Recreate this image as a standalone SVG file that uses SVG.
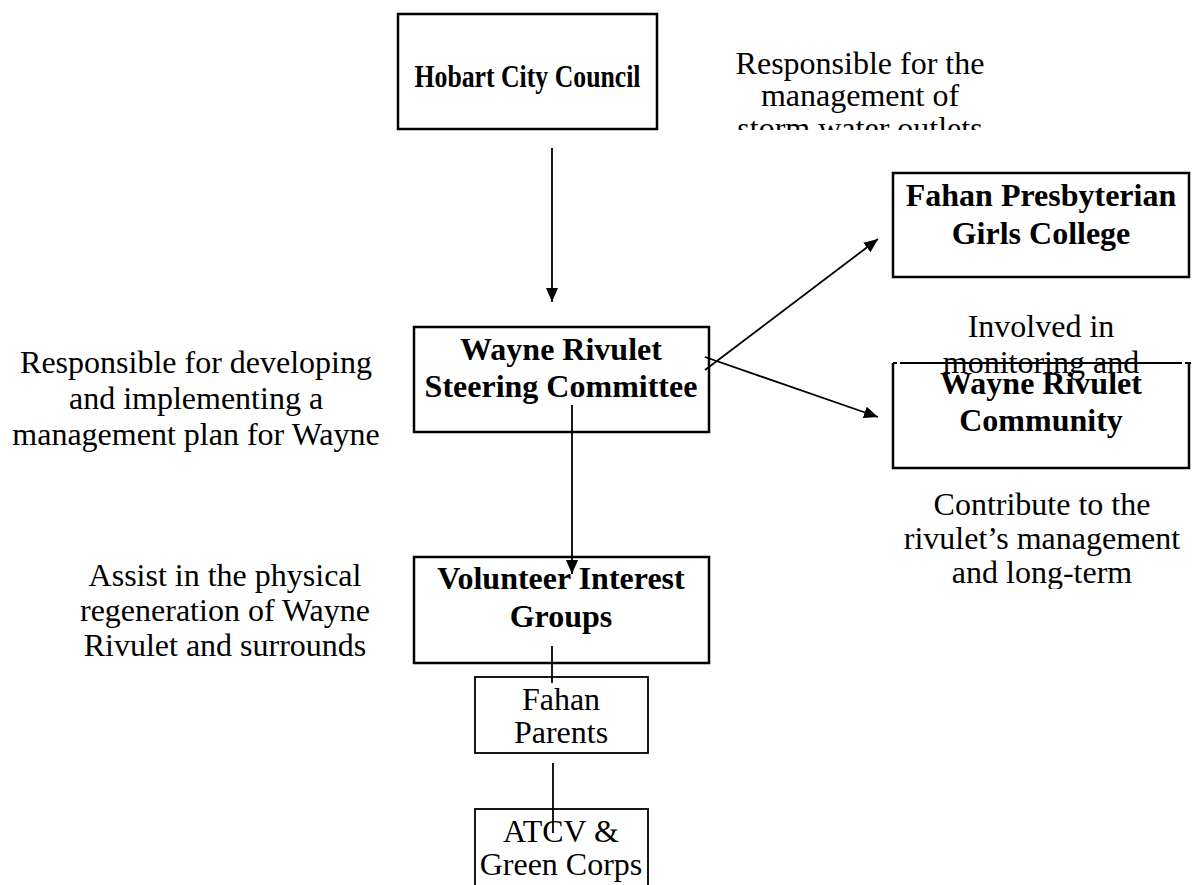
<svg xmlns="http://www.w3.org/2000/svg" width="1194" height="885" viewBox="0 0 1194 885">
<style>
text{font-family:"Liberation Serif","Times New Roman",serif;font-size:32px;fill:#000;text-anchor:middle}
.b{font-weight:bold}
.box{fill:#fff;stroke:#000;stroke-width:2.5}
.sbox{fill:#fff;stroke:#000;stroke-width:1.8}
.ln{stroke:#000;stroke-width:1.8;fill:none}
</style>
<defs>
<marker id="ah" viewBox="0 0 14 12" refX="14" refY="6" markerWidth="14" markerHeight="12" orient="auto" markerUnits="userSpaceOnUse"><path d="M0,0 L14,6 L0,12 z" fill="#000"/></marker>
<clipPath id="c1"><rect x="700" y="30" width="330" height="100"/></clipPath>
<clipPath id="c2"><rect x="880" y="480" width="314" height="109"/></clipPath>
</defs>
<g id="hobart">
<rect class="box" x="398" y="14" width="259" height="115"/>
<text class="b" x="527.5" y="87" textLength="226" lengthAdjust="spacingAndGlyphs">Hobart City Council</text>
</g>
<g id="hobart-desc" clip-path="url(#c1)">
<text x="860" y="74">Responsible for the</text>
<text x="860" y="106">management of</text>
<text x="860" y="139">storm water outlets</text>
</g>
<g id="steering">
<rect class="box" x="414" y="327" width="295" height="105"/>
<text class="b" x="561" y="360">Wayne Rivulet</text>
<text class="b" x="561" y="397">Steering Committee</text>
</g>
<g id="steering-desc">
<text x="196" y="373">Responsible for developing</text>
<text x="196" y="409">and implementing a</text>
<text x="196" y="445">management plan for Wayne</text>
</g>
<g id="fahan-college">
<rect class="box" x="893" y="173" width="296" height="104"/>
<text class="b" x="1041" y="206">Fahan Presbyterian</text>
<text class="b" x="1041" y="244">Girls College</text>
</g>
<g id="community">
<path class="box" d="M893,363 V468 H1189 V363"/>
<text class="b" x="1041" y="394">Wayne Rivulet</text>
<text class="b" x="1041" y="431">Community</text>
</g>
<g id="college-desc">
<text x="1041" y="337">Involved in</text>
<text x="1041" y="373">monitoring and</text>
</g>
<g id="community-top">
<path class="ln" stroke-width="2.5" d="M893,363 H897 M900,363 H1182 M1185,363 H1191"/>
</g>
<g id="community-desc" clip-path="url(#c2)">
<text x="1042" y="515">Contribute to the</text>
<text x="1042" y="549">rivulet’s management</text>
<text x="1042" y="583">and long-term</text>
</g>
<g id="volunteer">
<rect class="box" x="414" y="557" width="295" height="106"/>
<text class="b" x="561" y="589">Volunteer Interest</text>
<text class="b" x="561" y="627">Groups</text>
</g>
<g id="volunteer-desc">
<text x="225" y="586">Assist in the physical</text>
<text x="225" y="621">regeneration of Wayne</text>
<text x="225" y="656">Rivulet and surrounds</text>
</g>
<g id="fahan-parents">
<rect class="sbox" x="475" y="677" width="173" height="76"/>
<text x="561" y="710">Fahan</text>
<text x="561" y="743">Parents</text>
</g>
<g id="atcv">
<rect class="sbox" x="475" y="809" width="173" height="90"/>
<text x="561" y="842">ATCV &amp;</text>
<text x="561" y="875">Green Corps</text>
</g>
<g id="connectors">
<line class="ln" x1="552" y1="148" x2="552" y2="302" marker-end="url(#ah)"/>
<line class="ln" x1="705" y1="370" x2="878" y2="239" marker-end="url(#ah)"/>
<line class="ln" x1="705" y1="357" x2="878" y2="417" marker-end="url(#ah)"/>
<line class="ln" x1="572" y1="405" x2="572" y2="574" marker-end="url(#ah)"/>
<line class="ln" x1="552" y1="646" x2="552" y2="683"/>
<line class="ln" x1="553" y1="763" x2="553" y2="833"/>
</g>
</svg>
